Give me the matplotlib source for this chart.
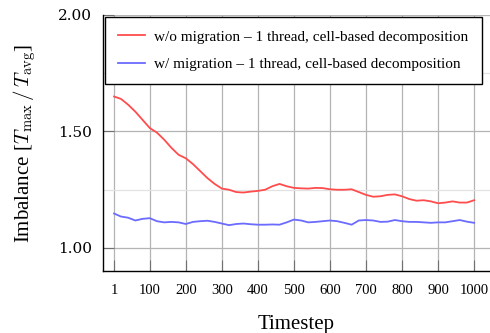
"""Load imbalance per timestep, with and without migration."""
import matplotlib
matplotlib.use("Agg")
import matplotlib.pyplot as plt

plt.rcParams["mathtext.fontset"] = "cm"

TIMESTEPS = [1] + list(range(20, 1001, 20))

NO_MIGRATION = [
    1.650, 1.640, 1.615, 1.585, 1.550, 1.515, 1.495, 1.465, 1.430, 1.400,
    1.385, 1.360, 1.330, 1.300, 1.275, 1.255, 1.250, 1.240, 1.238, 1.242,
    1.245, 1.250, 1.265, 1.275, 1.265, 1.258, 1.256, 1.255, 1.258, 1.257,
    1.252, 1.250, 1.250, 1.252, 1.240, 1.228, 1.220, 1.222, 1.228, 1.230,
    1.222, 1.210, 1.203, 1.205, 1.200, 1.192, 1.195, 1.200, 1.195, 1.195,
    1.205,
]
WITH_MIGRATION = [
    1.148, 1.135, 1.130, 1.118, 1.125, 1.128, 1.115, 1.110, 1.112, 1.110,
    1.103, 1.112, 1.115, 1.117, 1.112, 1.105, 1.098, 1.103, 1.105, 1.102,
    1.100, 1.100, 1.101, 1.100, 1.110, 1.122, 1.118, 1.110, 1.112, 1.115,
    1.118, 1.115, 1.108, 1.100, 1.118, 1.120, 1.118, 1.112, 1.113, 1.120,
    1.115, 1.112, 1.112, 1.110, 1.108, 1.110, 1.110, 1.115, 1.120, 1.113,
    1.108,
]

X_TICKS = [1, 100, 200, 300, 400, 500, 600, 700, 800, 900, 1000]
Y_TICKS = [1.00, 1.50, 2.00]
Y_MINOR = [1.25, 1.75]

fig = plt.figure(figsize=(4.9, 3.33), dpi=100)
ax = fig.add_axes([0.210, 0.186, 0.79, 0.769])

ax.plot(TIMESTEPS, NO_MIGRATION, color="#ff4d4d", lw=1.3,
        label="w/o migration – 1 thread, cell-based decomposition")
ax.plot(TIMESTEPS, WITH_MIGRATION, color="#6b6bff", lw=1.3,
        label="w/ migration – 1 thread, cell-based decomposition")

ax.set_xlim(-30, 1044)
ax.set_ylim(0.901, 2.0)
ax.set_xticks(X_TICKS)
ax.set_xticklabels([str(t) for t in X_TICKS], family="Liberation Serif",
                   fontsize=10.5)
ax.set_yticks(Y_TICKS)
ax.set_yticklabels([f"{v:.2f}" for v in Y_TICKS], family="DejaVu Serif",
                   fontsize=11)
ax.set_yticks(Y_MINOR, minor=True)
ax.tick_params(axis="both", which="major", direction="in", length=8,
               color="#707070", width=0.8)
ax.tick_params(axis="x", which="major", pad=9)
ax.tick_params(axis="y", which="major", pad=8)
ax.tick_params(axis="y", which="minor", length=0)

ax.grid(which="major", color="#b4b4b4", lw=0.9)
ax.grid(which="minor", axis="y", color="#e2e2e2", lw=0.9)
ax.set_axisbelow(True)

for s in ("top", "right"):
    ax.spines[s].set_visible(False)
for s in ("left", "bottom"):
    ax.spines[s].set_linewidth(1.0)
    ax.spines[s].set_color("black")

ax.set_xlabel("Timestep", family="Liberation Serif", fontsize=15, labelpad=13)
ax.set_ylabel(r"Imbalance [$T_{\max}\,/\,T_{\mathrm{avg}}$]",
              family="Liberation Serif", fontsize=15, labelpad=14)

leg = ax.legend(loc="upper left", bbox_to_anchor=(0.005, 0.992),
                borderaxespad=0,
                prop={"family": "Liberation Serif", "size": 11},
                frameon=True, fancybox=False, framealpha=1,
                edgecolor="black", handlelength=1.8, borderpad=0.85,
                labelspacing=0.9, handletextpad=0.6)
leg.get_frame().set_linewidth(1.0)

fig.savefig("out.png", dpi=100)
